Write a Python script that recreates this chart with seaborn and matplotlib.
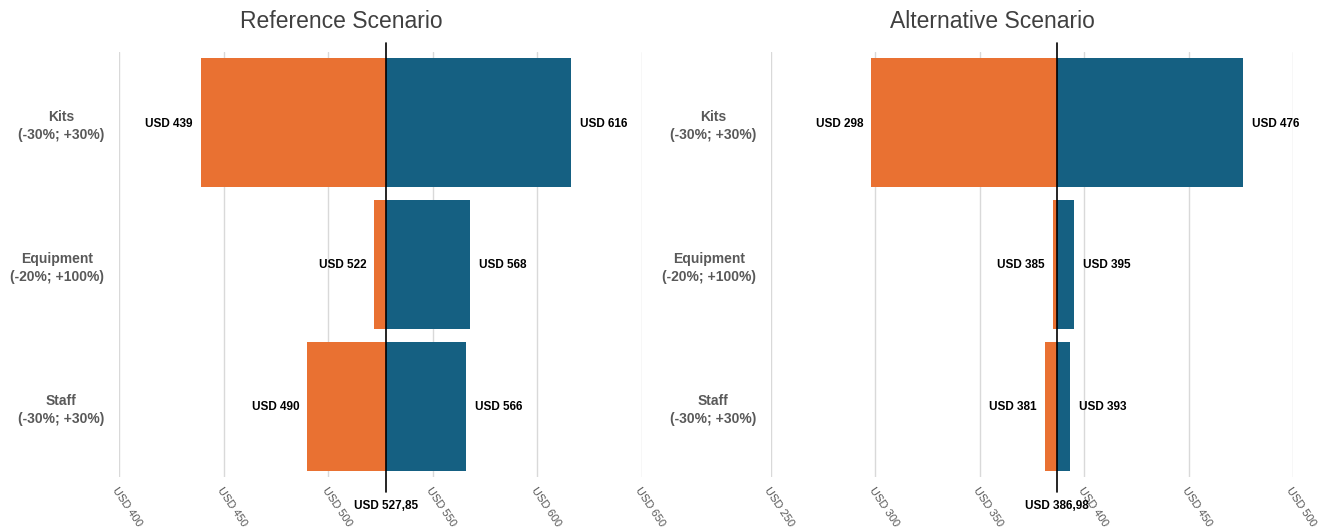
import matplotlib
matplotlib.use("Agg")
import matplotlib.pyplot as plt
import matplotlib.transforms as mtrans
import seaborn as sns
import pandas as pd

# ---- data ----
factors = ["Kits\n(-30%; +30%)", "Equipment\n(-20%; +100%)", "Staff\n(-30%; +30%)"]
ref_low = [439, 522, 490]
ref_high = [616, 568, 566]
ref_base = 527.85
alt_low = [298, 385, 381]
alt_high = [476, 395, 393]
alt_base = 386.98
ref_ticks = [400, 450, 500, 550, 600, 650]
alt_ticks = [250, 300, 350, 400, 450, 500]
titles = ["Reference Scenario", "Alternative Scenario"]

ORANGE = "#E97132"
BLUE = "#156082"
GREY = "#595959"

sns.set_theme(style="white")
plt.rcParams["font.family"] = ["Liberation Sans", "DejaVu Sans"]

fig = plt.figure(figsize=(13.3, 5.3), dpi=100)
W, H = 1330, 530
top_px, bot_px = 52, 477
axes_px = [(119, 642), (771, 1293)]

panels = [
    (ref_low, ref_high, ref_base, ref_ticks),
    (alt_low, alt_high, alt_base, alt_ticks),
]

shift = mtrans.ScaledTranslation(4 / 100, 0, fig.dpi_scale_trans)

for (x0, x1), (low, high, base, ticks), title in zip(axes_px, panels, titles):
    ax = fig.add_axes([x0 / W, 1 - bot_px / H, (x1 - x0) / W, (bot_px - top_px) / H])
    df = pd.DataFrame({
        "factor": factors * 2,
        "kind": ["low"] * 3 + ["high"] * 3,
        "value": low + high,
    })
    df["delta"] = df["value"] - base
    sns.barplot(data=df, y="factor", x="delta", hue="kind", dodge=False,
                palette={"low": ORANGE, "high": BLUE}, width=0.91, saturation=1,
                left=base, legend=False, ax=ax, zorder=2, linewidth=0)
    ax.set_xlim(ticks[0], ticks[-1])
    ax.set_ylim(2.5, -0.5)
    ax.set_xticks(ticks)
    ax.set_xticklabels([f"USD {t}" for t in ticks], rotation=-56, ha="left",
                       va="top", rotation_mode="anchor", color=GREY, fontsize=8)
    for lab in ax.get_xticklabels():
        lab.set_transform(lab.get_transform() + shift)
    ax.tick_params(axis="x", length=0, pad=6)
    ax.tick_params(axis="y", length=0, pad=10.5)
    for lab in ax.get_yticklabels():
        lab.set_color(GREY)
        lab.set_fontweight("bold")
        lab.set_fontsize(10)
        lab.set_multialignment("center")
        lab.set_linespacing(1.35)
    ax.set_xlabel("")
    ax.set_ylabel("")
    for s in ax.spines.values():
        s.set_visible(False)
    ax.grid(axis="x", color="#d9d9d9", linewidth=1, zorder=0)
    ax.set_axisbelow(True)

    ax.axvline(base, ymin=-0.035, ymax=1.021, color="black", linewidth=1.2,
               clip_on=False, zorder=3)
    ax.annotate(f"USD {base:.2f}".replace(".", ","), xy=(base, 0), xycoords=("data", "axes fraction"),
                xytext=(0, -29), textcoords="offset pixels", ha="center", va="center",
                fontsize=8.5, fontweight="bold", color="black")

    for i, (lv, hv) in enumerate(zip(low, high)):
        ax.annotate(f"USD {lv}", xy=(lv, i), xytext=(-8, -1), textcoords="offset pixels",
                    ha="right", va="center", fontsize=8.5, fontweight="bold", color="black")
        ax.annotate(f"USD {hv}", xy=(hv, i), xytext=(9, -1), textcoords="offset pixels",
                    ha="left", va="center", fontsize=8.5, fontweight="bold", color="black")

    ax.text(0.425, 1 + (52 - 21) / (bot_px - top_px), title, transform=ax.transAxes,
            ha="center", va="center", fontsize=16.5, color="#404040")

fig.savefig("out.png", dpi=100)
